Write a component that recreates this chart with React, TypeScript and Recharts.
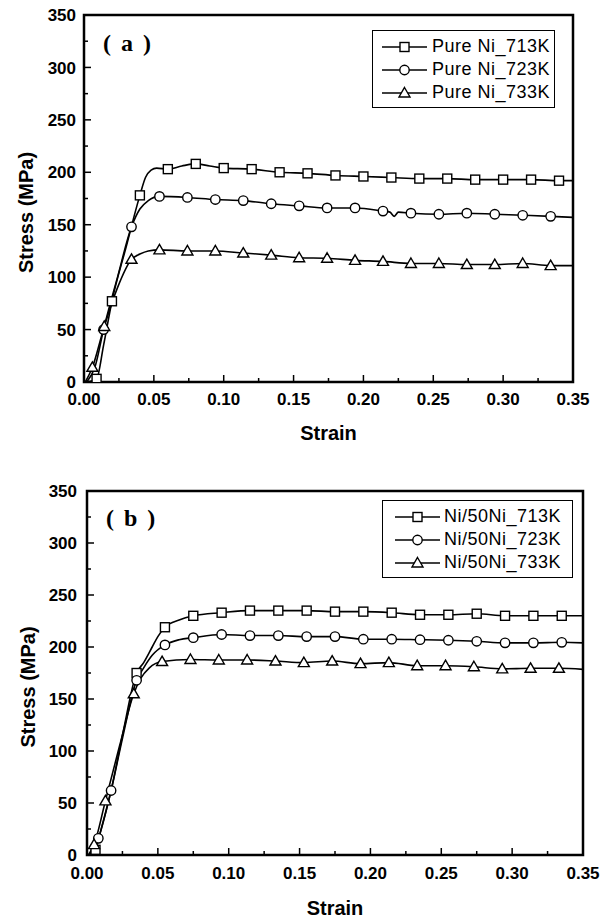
import React from 'react';
import { LineChart, Line, XAxis, YAxis, Legend, ReferenceArea } from 'recharts';

type Pt = [number, number, number]; // [strain, stress (MPa), marker shown]

const xTicks = [0, 0.025, 0.05, 0.075, 0.1, 0.125, 0.15, 0.175, 0.2, 0.225, 0.25, 0.275, 0.3, 0.325, 0.35];
const yTicks = [0, 25, 50, 75, 100, 125, 150, 175, 200, 225, 250, 275, 300, 325, 350];

// Panel (a): Pure Ni
const pureNi713K: Pt[] = [
  [0.002, 0, 0], [0.009, 3, 1], [0.014, 35, 0], [0.02, 77, 1], [0.03, 128, 0], [0.04, 178, 1],
  [0.044, 195, 0], [0.048, 202, 0], [0.052, 204, 0], [0.06, 203, 1], [0.07, 206, 0], [0.08, 208, 1],
  [0.09, 206, 0], [0.1, 204, 1], [0.12, 203, 1], [0.14, 200, 1], [0.16, 199, 1], [0.18, 197, 1],
  [0.2, 196, 1], [0.22, 195, 1], [0.24, 194, 1], [0.26, 194, 1], [0.28, 193, 1], [0.3, 193, 1],
  [0.32, 193, 1], [0.34, 192, 1], [0.35, 192, 0],
];
const pureNi723K: Pt[] = [
  [0.002, 0, 0], [0.008, 15, 0], [0.014, 50, 1], [0.024, 100, 0], [0.034, 148, 1], [0.04, 165, 0],
  [0.046, 173, 0], [0.054, 177, 1], [0.074, 176, 1], [0.094, 174, 1], [0.114, 173, 1], [0.134, 170, 1],
  [0.154, 168, 1], [0.174, 166, 1], [0.194, 166, 1], [0.214, 163, 1], [0.219, 162, 0], [0.222, 158, 0],
  [0.225, 162, 0], [0.234, 161, 1], [0.254, 160, 1], [0.274, 161, 1], [0.294, 160, 1], [0.314, 159, 1],
  [0.334, 158, 1], [0.35, 157, 0],
];
const pureNi733K: Pt[] = [
  [0.001, 0, 0], [0.006, 14, 1], [0.0145, 53, 1], [0.024, 90, 0], [0.034, 117, 1], [0.04, 122, 0],
  [0.046, 125, 0], [0.054, 126, 1], [0.074, 125, 1], [0.094, 125, 1], [0.114, 123, 1], [0.134, 121, 1],
  [0.154, 118.5, 1], [0.174, 118, 1], [0.194, 116, 1], [0.214, 115, 1], [0.234, 113, 1], [0.254, 113, 1],
  [0.274, 112, 1], [0.294, 112, 1], [0.314, 113, 1], [0.334, 111, 1], [0.35, 111, 0],
];

// Panel (b): Ni/50Ni
const ni50Ni713K: Pt[] = [
  [0.002, 0, 0], [0.006, 5, 1], [0.01, 25, 0], [0.017, 62, 0], [0.025, 115, 0], [0.035, 175, 1],
  [0.04, 185, 0], [0.046, 200, 0], [0.05, 210, 0], [0.055, 219, 1], [0.065, 226, 0], [0.075, 230, 1],
  [0.095, 233, 1], [0.115, 235, 1], [0.135, 235, 1], [0.155, 235, 1], [0.175, 234, 1], [0.195, 234, 1],
  [0.215, 233, 1], [0.235, 231, 1], [0.255, 231, 1], [0.275, 232, 1], [0.295, 230, 1], [0.315, 230, 1],
  [0.335, 230, 1], [0.35, 230, 0],
];
const ni50Ni723K: Pt[] = [
  [0.002, 0, 0], [0.008, 16, 1], [0.017, 62, 1], [0.025, 112, 0], [0.035, 168, 1], [0.04, 180, 0],
  [0.046, 192, 0], [0.055, 202, 1], [0.065, 207, 0], [0.075, 209, 1], [0.095, 212, 1], [0.115, 211, 1],
  [0.135, 211, 1], [0.155, 210, 1], [0.175, 210, 1], [0.195, 207.5, 1], [0.215, 207.5, 1], [0.235, 207, 1],
  [0.255, 206.5, 1], [0.275, 205.5, 1], [0.295, 204, 1], [0.315, 204, 1], [0.335, 204.5, 1], [0.35, 204, 0],
];
const ni50Ni733K: Pt[] = [
  [0.001, 0, 0], [0.005, 10, 1], [0.013, 52, 1], [0.023, 105, 0], [0.033, 155, 1], [0.038, 170, 0],
  [0.044, 180, 0], [0.053, 186, 1], [0.073, 188, 1], [0.093, 187.5, 1], [0.113, 187.5, 1], [0.133, 186.5, 1],
  [0.153, 185, 1], [0.173, 186.5, 1], [0.193, 184, 1], [0.213, 185, 1], [0.233, 182, 1], [0.253, 182, 1],
  [0.273, 181, 1], [0.293, 179, 1], [0.313, 179.5, 1], [0.333, 179.5, 1], [0.35, 178.5, 0],
];

const namesA = ['Pure Ni_713K', 'Pure Ni_723K', 'Pure Ni_733K'];
const namesB = ['Ni/50Ni_713K', 'Ni/50Ni_723K', 'Ni/50Ni_733K'];
const shapes = ['square', 'circle', 'triangle'];

const toRows = (pts: Pt[]) => pts.map(([strain, stress, m]) => ({ strain, stress, m }));

const SANS = '"Liberation Sans", Arial, sans-serif';

function Marker({ shape, cx, cy }: { shape: string; cx: number; cy: number }) {
  const common = { fill: '#fff', stroke: '#000', strokeWidth: 1.4 };
  if (shape === 'square') return <rect x={cx - 4.5} y={cy - 4.5} width={9} height={9} {...common} />;
  if (shape === 'circle') return <circle cx={cx} cy={cy} r={4.7} {...common} />;
  return <polygon points={`${cx},${cy - 5.5} ${cx + 5.5},${cy + 4} ${cx - 5.5},${cy + 4}`} {...common} strokeLinejoin="miter" />;
}

const makeXTick = (gap: number) => (props: any) => {
  const { x, y, payload } = props;
  const v = payload.value as number;
  const major = Math.round(v * 1000) % 50 === 0;
  return (
    <g>
      <line x1={x} x2={x} y1={y} y2={y - (major ? 7 : 4)} stroke="#000" strokeWidth={1.5} />
      {major && (
        <text x={x} y={y + gap} dy="0.72em" textAnchor="middle" fill="#000"
          style={{ fontFamily: SANS, fontWeight: 700, fontSize: 17 }}>{v.toFixed(2)}</text>
      )}
    </g>
  );
};

const makeYTick = (gap: number) => (props: any) => {
  const { x, y, payload } = props;
  const v = payload.value as number;
  const major = v % 50 === 0;
  return (
    <g>
      <line x1={x} x2={x + (major ? 7 : 4)} y1={y} y2={y} stroke="#000" strokeWidth={1.5} />
      {major && (
        <text x={x - gap} y={y} dy="0.36em" textAnchor="end" fill="#000"
          style={{ fontFamily: SANS, fontWeight: 700, fontSize: 17 }}>{v}</text>
      )}
    </g>
  );
};

const XTitle = (props: any) => {
  const vb = props.viewBox || {};
  return (
    <text x={vb.x + vb.width / 2} y={vb.y + props.off} textAnchor="middle" fill="#000"
      style={{ fontFamily: SANS, fontWeight: 700, fontSize: 20 }}>Strain</text>
  );
};

const YTitle = (props: any) => {
  const vb = props.viewBox || {};
  const cx = props.cx;
  const cy = vb.y + vb.height / 2 + props.off;
  return (
    <text x={cx} y={cy} transform={`rotate(-90, ${cx}, ${cy})`} textAnchor="middle" dominantBaseline="central"
      fill="#000" style={{ fontFamily: SANS, fontWeight: 700, fontSize: 20 }}>Stress (MPa)</text>
  );
};

function LegendBox({ names, padLeft, gap }: { names: string[]; padLeft: number; gap: number }) {
  return (
    <div style={{
      width: '100%', height: '100%', boxSizing: 'border-box', border: '1.5px solid #000', background: '#fff',
      paddingTop: 4, paddingLeft: padLeft, fontFamily: SANS, fontSize: 18, letterSpacing: 0.5, color: '#000',
    }}>
      {names.map((n, i) => (
        <div key={n} style={{ display: 'flex', alignItems: 'center', height: 23, whiteSpace: 'nowrap' }}>
          <svg width={45} height={14} style={{ flex: 'none' }}>
            <line x1={0} y1={7} x2={45} y2={7} stroke="#000" strokeWidth={1.5} />
            <Marker shape={shapes[i]} cx={22.5} cy={7} />
          </svg>
          <span style={{ marginLeft: gap }}>{n}</span>
        </div>
      ))}
    </div>
  );
}

type PanelCfg = {
  top: number;
  series: Pt[][];
  names: string[];
  margin: { top: number; right: number; bottom: number; left: number };
  yAxisWidth: number;
  xAxisHeight: number;
  xGap: number;
  yGap: number;
  xTitleOff: number;
  yTitleCx: number;
  yTitleOff: number;
  legend: { left: number; top: number; width: number; height: number; padLeft: number; gap: number };
  tag: string;
  tagPos: { left: number; top: number };
};

function Panel(cfg: PanelCfg) {
  return (
    <div style={{ position: 'absolute', left: 0, top: cfg.top, width: 610, height: 460 }}>
      <LineChart width={610} height={460} margin={cfg.margin}>
        <XAxis dataKey="strain" type="number" domain={[0, 0.35]} ticks={xTicks} interval={0}
          allowDataOverflow height={cfg.xAxisHeight} axisLine={false} tickLine={false} tickSize={0} tickMargin={0}
          tick={makeXTick(cfg.xGap)} label={<XTitle off={cfg.xTitleOff} />} />
        <YAxis type="number" domain={[0, 350]} ticks={yTicks} interval={0} allowDataOverflow
          width={cfg.yAxisWidth} axisLine={false} tickLine={false} tickSize={0} tickMargin={0}
          tick={makeYTick(cfg.yGap)} label={<YTitle cx={cfg.yTitleCx} off={cfg.yTitleOff} />} />
        <ReferenceArea x1={0} x2={0.35} y1={0} y2={350} fill="#fff" fillOpacity={0} stroke="#000" strokeWidth={2.5} />
        {cfg.series.map((pts, i) => (
          <Line key={cfg.names[i]} name={cfg.names[i]} data={toRows(pts)} dataKey="stress" type="monotone"
            stroke="#000" strokeWidth={1.6} isAnimationActive={false} activeDot={false}
            dot={(p: any) => p.payload && p.payload.m
              ? <Marker key={`d${i}-${p.index}`} shape={shapes[i]} cx={p.cx} cy={p.cy} />
              : <g key={`d${i}-${p.index}`} />} />
        ))}
        <Legend layout="horizontal" verticalAlign="middle" align="center"
          wrapperStyle={{ position: 'absolute', left: cfg.legend.left, top: cfg.legend.top, width: cfg.legend.width, height: cfg.legend.height }}
          content={() => <LegendBox names={cfg.names} padLeft={cfg.legend.padLeft} gap={cfg.legend.gap} />} />
      </LineChart>
      <div style={{
        position: 'absolute', left: cfg.tagPos.left, top: cfg.tagPos.top, fontFamily: '"Liberation Serif", "Times New Roman", serif',
        fontWeight: 700, fontSize: 24, letterSpacing: 2, lineHeight: 1, whiteSpace: 'pre', color: '#000',
      }}>{cfg.tag}</div>
    </div>
  );
}

export default function App() {
  return (
    <div style={{ position: 'absolute', left: 0, top: 0, width: 610, height: 920, background: '#fff' }}>
      <Panel
        top={0}
        series={[pureNi713K, pureNi723K, pureNi733K]}
        names={namesA}
        margin={{ top: 15, right: 37, bottom: 0, left: 0 }}
        yAxisWidth={84}
        xAxisHeight={78}
        xGap={11}
        yGap={8}
        xTitleOff={58}
        yTitleCx={25.5}
        yTitleOff={14}
        legend={{ left: 372, top: 30, width: 183, height: 78, padLeft: 9, gap: 5 }}
        tag="( a )"
        tagPos={{ left: 103, top: 31 }}
      />
      <Panel
        top={460}
        series={[ni50Ni713K, ni50Ni723K, ni50Ni733K]}
        names={namesB}
        margin={{ top: 31, right: 27, bottom: 0, left: 0 }}
        yAxisWidth={87}
        xAxisHeight={65}
        xGap={12}
        yGap={10}
        xTitleOff={60}
        yTitleCx={28}
        yTitleOff={14}
        legend={{ left: 382, top: 40, width: 191, height: 78, padLeft: 12, gap: 4 }}
        tag="( b )"
        tagPos={{ left: 106, top: 46 }}
      />
    </div>
  );
}
